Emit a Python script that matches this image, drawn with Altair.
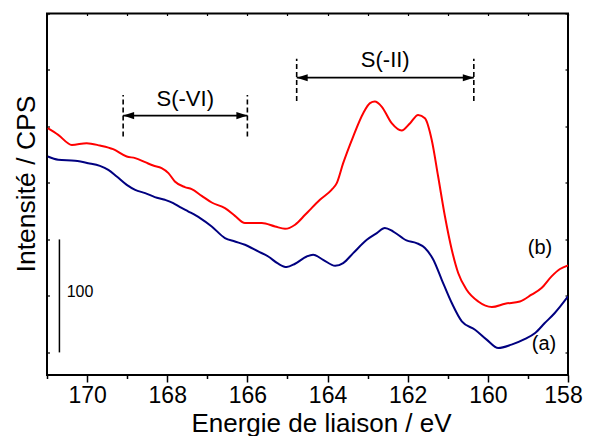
import altair as alt
import pandas as pd

FONT = "Liberation Sans"

# ---- curve (b), red ----
ev_b = [170.98, 170.72, 170.38, 170.01, 169.68, 169.35, 169.01, 168.80, 168.55, 168.35,
        168.14, 167.97, 167.81, 167.56, 167.39, 167.14, 166.89, 166.56, 166.31, 166.06,
        165.64, 165.31, 165.06, 164.81, 164.56, 164.44, 164.19, 163.90, 163.77, 163.61,
        163.36, 163.11, 162.94, 162.82, 162.65, 162.40, 162.15, 161.94, 161.74, 161.57,
        161.40, 161.24, 161.07, 160.90, 160.74, 160.53, 160.24, 159.90, 159.57, 159.20,
        158.91, 158.66, 158.41, 158.20, 158.00]
val_b = [598.5, 592.6, 583.7, 585.2, 583.1, 579.9, 573.4, 572.0, 568.4, 565.4,
         563.1, 558.7, 551.3, 546.3, 544.5, 538.6, 532.7, 527.7, 520.9, 514.5,
         514.5, 511.5, 509.4, 513.0, 521.8, 526.2, 535.1, 543.9, 549.8, 567.5,
         591.1, 611.7, 620.6, 622.0, 617.6, 602.9, 596.4, 602.9, 610.2, 607.3,
         588.1, 555.7, 520.3, 490.9, 470.3, 455.5, 445.1, 440.2, 443.1, 445.1,
         451.1, 457.0, 467.3, 473.8, 477.0]

# ---- curve (a), navy ----
ev_a = [170.98, 170.72, 170.30, 169.97, 169.68, 169.47, 169.26, 169.01, 168.80, 168.55,
        168.31, 168.06, 167.85, 167.68, 167.47, 167.18, 166.89, 166.56, 166.31, 166.06,
        165.73, 165.48, 165.23, 165.02, 164.81, 164.52, 164.36, 164.11, 163.81, 163.61,
        163.36, 163.02, 162.77, 162.57, 162.36, 162.03, 161.78, 161.57, 161.36, 161.15,
        160.90, 160.65, 160.32, 160.03, 159.74, 159.41, 159.07, 158.82, 158.58, 158.33,
        158.00]
val_a = [573.4, 570.5, 569.6, 567.5, 565.1, 561.6, 555.7, 548.3, 543.9, 541.0,
         537.5, 535.1, 532.2, 528.6, 524.7, 518.9, 511.5, 501.2, 498.2, 495.3,
         489.4, 484.9, 478.5, 475.6, 478.5, 484.9, 486.4, 482.0, 476.7, 479.1,
         487.9, 499.7, 505.6, 510.1, 507.0, 499.1, 496.8, 492.4, 482.0, 464.3,
         443.7, 427.5, 420.1, 411.3, 403.9, 406.9, 411.9, 417.2, 426.0, 434.9,
         449.6]

x_ticks = list(range(158, 172))
y_ticks = [400, 450, 500, 550, 600, 650, 700]

# ---- brackets ----
bracket_names = ["S(-VI)", "S(-II)"]
bracket_left = [169.10, 164.77]
bracket_right = [166.00, 160.35]
bracket_arrow_y = [609.6, 643.2]
bracket_dash_lo = [591.1, 622.5]
bracket_dash_hi = [627.9, 660.0]
bracket_label_y = [624.4, 658.9]

# ---- scale bar ----
scale_bar_x = [170.69]
scale_bar_lo = [400]
scale_bar_hi = [500]
scale_label = ["100"]
scale_label_x = [170.51]
scale_label_y = [453.1]

# ---- curve labels ----
curve_labels = ["(b)", "(a)"]
curve_label_x = [158.70, 158.60]
curve_label_y = [492.4, 407.7]

df = pd.concat([
    pd.DataFrame({"ev": ev_b, "val": val_b, "series": "b"}),
    pd.DataFrame({"ev": ev_a, "val": val_a, "series": "a"}),
])

xs = alt.Scale(domain=[158, 171], reverse=True, nice=False, zero=False)
ys = alt.Scale(domain=[380, 700], nice=False, zero=False)

bottom_axis = alt.Axis(
    orient="bottom", values=x_ticks, domain=False, grid=False, labelFlush=False,
    labelExpr="datum.value % 2 == 0 ? datum.label : ''",
    tickSize={"condition": {"test": "datum.value % 2 == 0", "value": 7}, "value": 3.5},
    labelOffset={"condition": {"test": "datum.value == 158", "value": -5}, "value": 0},
    tickWidth=1.5, tickColor="black", labelPadding=2,
    labelFont=FONT, labelFontSize=23, labelColor="black",
    title="Energie de liaison / eV", titleFont=FONT, titleFontSize=26,
    titleFontWeight="normal", titleColor="black",
    titleX=274, titleY=56.5, titleAlign="center", titleBaseline="alphabetic",
)
left_axis = alt.Axis(
    orient="left", values=y_ticks, domain=False, grid=False, labels=False,
    tickSize=2.5, offset=-2.5, tickWidth=1.2, tickColor="black",
    title="Intensité / CPS", titleFont=FONT, titleFontSize=26.5,
    titleFontWeight="normal", titleColor="black",
    titleAngle=-90, titleX=-15, titleY=170, titleAlign="center",
    titleBaseline="alphabetic",
)
top_axis = alt.Axis(
    orient="top", values=x_ticks, domain=False, grid=False, labels=False,
    tickSize=2, offset=-2, tickWidth=1.2, tickColor="black", title=None,
)
right_axis = alt.Axis(
    orient="right", values=y_ticks, domain=False, grid=False, labels=False,
    tickSize=3, offset=-3, tickWidth=1.2, tickColor="black", title=None,
)

lines = alt.Chart(df).mark_line(interpolate="monotone", strokeWidth=2, clip=True).encode(
    x=alt.X("ev:Q", scale=xs, axis=bottom_axis),
    y=alt.Y("val:Q", scale=ys, axis=left_axis),
    color=alt.Color("series:N", scale=alt.Scale(domain=["a", "b"], range=["#000080", "#ff0000"]), legend=None),
    detail="series:N",
)

sb = pd.DataFrame({"x": scale_bar_x, "lo": scale_bar_lo, "hi": scale_bar_hi})
scalebar = alt.Chart(sb).mark_rule(strokeWidth=1.5, color="black").encode(
    x=alt.X("x:Q", scale=xs, axis=top_axis),
    y=alt.Y("lo:Q", scale=ys, axis=right_axis),
    y2="hi:Q",
)

sl = pd.DataFrame({"t": scale_label, "x": scale_label_x, "y": scale_label_y})
scalelabel = alt.Chart(sl).mark_text(font=FONT, fontSize=16, align="left", baseline="middle", color="black").encode(
    x=alt.X("x:Q", scale=xs, axis=None), y=alt.Y("y:Q", scale=ys, axis=None), text="t:N")

br = pd.DataFrame({
    "name": bracket_names, "left": bracket_left, "right": bracket_right,
    "ay": bracket_arrow_y, "dlo": bracket_dash_lo, "dhi": bracket_dash_hi,
    "ly": bracket_label_y,
})
br["mid"] = (br["left"] + br["right"]) / 2

dash_l = alt.Chart(br).mark_rule(strokeWidth=1.6, strokeDash=[5, 3], color="black").encode(
    x=alt.X("left:Q", scale=xs, axis=None), y=alt.Y("dlo:Q", scale=ys, axis=None), y2="dhi:Q")
dash_r = alt.Chart(br).mark_rule(strokeWidth=1.6, strokeDash=[5, 3], color="black").encode(
    x=alt.X("right:Q", scale=xs, axis=None), y=alt.Y("dlo:Q", scale=ys, axis=None), y2="dhi:Q")
arrow = alt.Chart(br).mark_rule(strokeWidth=1.6, color="black").encode(
    x=alt.X("left:Q", scale=xs, axis=None), x2="right:Q", y=alt.Y("ay:Q", scale=ys, axis=None))
head_l = alt.Chart(br).mark_point(shape="M0,0 L1,-0.32 L1,0.32 Z", size=484, filled=True,
                                  opacity=1, color="black", strokeWidth=0).encode(
    x=alt.X("left:Q", scale=xs, axis=None), y=alt.Y("ay:Q", scale=ys, axis=None))
head_r = alt.Chart(br).mark_point(shape="M0,0 L-1,-0.32 L-1,0.32 Z", size=484, filled=True,
                                  opacity=1, color="black", strokeWidth=0).encode(
    x=alt.X("right:Q", scale=xs, axis=None), y=alt.Y("ay:Q", scale=ys, axis=None))
br_text = alt.Chart(br).mark_text(font=FONT, fontSize=22, align="center", baseline="middle", color="black").encode(
    x=alt.X("mid:Q", scale=xs, axis=None), y=alt.Y("ly:Q", scale=ys, axis=None), text="name:N")

cl = pd.DataFrame({"t": curve_labels, "x": curve_label_x, "y": curve_label_y})
curve_text = alt.Chart(cl).mark_text(font=FONT, fontSize=20, align="center", baseline="middle", color="black").encode(
    x=alt.X("x:Q", scale=xs, axis=None), y=alt.Y("y:Q", scale=ys, axis=None), text="t:N")

chart = alt.layer(
    lines, scalebar, scalelabel, dash_l, dash_r, arrow, head_l, head_r, br_text, curve_text
).resolve_axis(x="independent", y="independent").properties(
    width=521, height=361.5,
    autosize=alt.AutoSizeParams(type="none"),
    padding={"left": 39, "top": 5.5, "right": 16, "bottom": 70},
).configure_view(stroke="black", strokeWidth=2)

chart.save("out.html", embed_options={"renderer": "svg", "actions": False})
